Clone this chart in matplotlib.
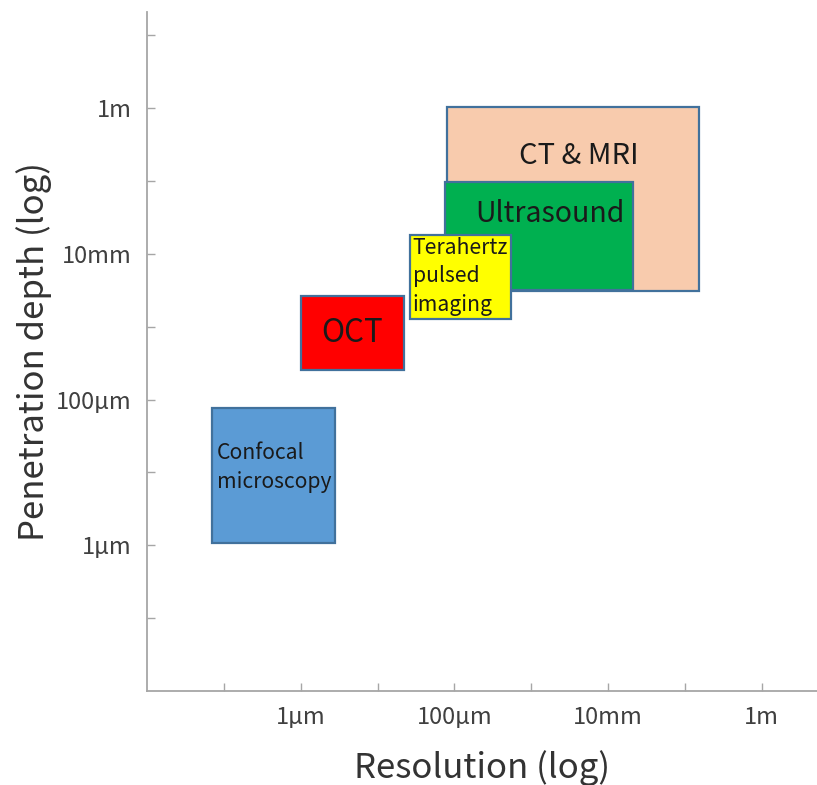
import matplotlib
matplotlib.use("Agg")
import matplotlib.pyplot as plt
from matplotlib.patches import Rectangle

plt.rcParams['font.family'] = ['Noto Sans CJK SC', 'DejaVu Sans']

# Data: log10(metres)
methods = ["CT & MRI", "Ultrasound", "Terahertz\npulsed\nimaging", "OCT", "Confocal\nmicroscopy"]
res_lo = [-4.10, -4.12, -4.58, -6.00, -7.15]
res_hi = [-0.81, -1.67, -3.26, -4.66, -5.56]
depth_lo = [-2.51, -2.50, -2.90, -3.59, -5.97]
depth_hi = [0.02, -1.01, -1.74, -2.575, -4.11]
colors = ["#F8CBAD", "#00B050", "#FFFF00", "#FF0000", "#5B9BD5"]

major_ticks = [-6, -4, -2, 0]
x_minor_ticks = [-7, -5, -3, -1]
y_minor_ticks = [-7, -5, -3, -1, 1]
tick_labels = ["1µm", "100µm", "10mm", "1m"]

# label placement (x, y, ha, fontsize)
label_pos = [(-2.38, -0.66, "center", 21),
             (-2.75, -1.45, "center", 20.5),
             (-4.545, -2.31, "left", 15.2),
             (-5.335, -3.08, "center", 22.5),
             (-7.09, -4.93, "left", 15.2)]

fig = plt.figure(figsize=(8.17, 7.85), dpi=100)
ax = fig.add_axes([0.18, 0.1197, 0.82, 0.865])

for i, m in enumerate(methods):
    r = Rectangle((res_lo[i], depth_lo[i]), res_hi[i] - res_lo[i], depth_hi[i] - depth_lo[i],
                  facecolor=colors[i], edgecolor="#41719C", linewidth=1.6, zorder=2 + i)
    ax.add_patch(r)
    x, y, ha, fs = label_pos[i]
    ax.text(x, y, m, ha=ha, va="center", fontsize=fs, color="#1a1a1a",
            linespacing=1.38, zorder=10)

gray = "#A6A6A6"
for s in ["top", "right"]:
    ax.spines[s].set_visible(False)
for s in ["left", "bottom"]:
    ax.spines[s].set_color(gray)
    ax.spines[s].set_linewidth(1.3)

ax.set_xticks(major_ticks + x_minor_ticks)
ax.set_xticklabels(tick_labels + [""] * len(x_minor_ticks))
ax.set_yticks(major_ticks + y_minor_ticks)
ax.set_yticklabels(tick_labels + [""] * len(y_minor_ticks))
ax.set_xlim(-8, 0.72)
ax.set_ylim(-8, 1.32)
ax.tick_params(axis="both", direction="in", length=6, width=1, color=gray,
               labelsize=17, labelcolor="#404040")
ax.tick_params(axis="y", pad=11)
ax.tick_params(axis="x", pad=11)

ax.set_xlabel("Resolution (log)", fontsize=25, color="#333333", labelpad=15)
ax.set_ylabel("Penetration depth (log)", fontsize=25, color="#333333", labelpad=3)

fig.savefig("out.png", dpi=100)
